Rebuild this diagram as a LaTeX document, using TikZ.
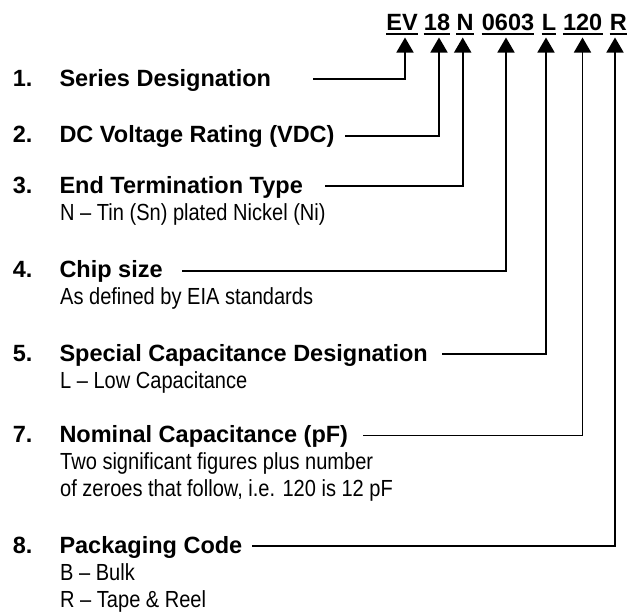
\documentclass[tikz,border=0pt]{standalone}
\usepackage{fontspec}
\setmainfont{Liberation Sans}
\newfontfamily\narrowfont[FakeStretch=0.86]{Liberation Sans}
\usetikzlibrary{arrows.meta}
\begin{document}
\begin{tikzpicture}[x=1pt,y=-1pt,
  code/.style={font=\fontsize{23.5}{26}\selectfont\bfseries, inner sep=0pt, anchor=base},
  lbl/.style={font=\fontsize{23.5}{26}\selectfont\bfseries, inner sep=0pt, anchor=base west},
  subtxt/.style={font=\fontsize{23.3}{26}\selectfont\narrowfont, inner sep=0pt, anchor=base west},
  uline/.style={line width=2pt},
  lead/.style={line width=1.7pt, -{Triangle[width=17pt,length=15pt]}}]
\useasboundingbox (0,0) rectangle (628,614);
% part number code
\node[code] (cEV) at (402,30) {EV};
\node[code] (c18) at (437,30) {18};
\node[code] (cN) at (465,30) {N};
\node[code] (c0603) at (508,30) {0603};
\node[code] (cL) at (549,30) {L};
\node[code] (c120) at (582.7,30) {120};
\node[code] (cR) at (618.3,30) {R};
\foreach \n in {cEV,c18,cN,c0603,cL,c120,cR}
  \draw[uline] ([yshift=-3.5pt]\n.base west) -- ([yshift=-3.5pt]\n.base east);
% arrow tips
\coordinate (tEV) at (405,37.5);
\coordinate (t18) at (439,37.5);
\coordinate (tN) at (462.7,37.5);
\coordinate (t0603) at (506,37.5);
\coordinate (tL) at (546,37.5);
\coordinate (t120) at (582.5,37.5);
\coordinate (tR) at (615,37.5);
% numbers
\node[lbl] (n1) at (12.7,86) {1.};
\node[lbl] (n2) at (12.7,142) {2.};
\node[lbl] (n3) at (12.7,193.5) {3.};
\node[lbl] (n4) at (12.7,277.5) {4.};
\node[lbl] (n5) at (12.7,361) {5.};
\node[lbl] (n7) at (12.7,442.5) {7.};
\node[lbl] (n8) at (12.7,553) {8.};
% labels
\node[lbl] (l1) at (59.3,86) {Series Designation};
\node[lbl] (l2) at (59.3,142) {DC Voltage Rating (VDC)};
\node[lbl] (l3) at (59.3,193.5) {End Termination Type};
\node[subtxt] (d3) at (60,220.5) {N – Tin (Sn) plated Nickel (Ni)};
\node[lbl] (l4) at (59.3,277.5) {Chip size};
\node[subtxt] (d4) at (60,304.5) {As defined by EIA standards};
\node[lbl] (l5) at (59.3,361) {Special Capacitance Designation};
\node[subtxt] (d5) at (60,388) {L – Low Capacitance};
\node[lbl] (l7) at (59.3,442.5) {Nominal Capacitance (pF)};
\node[subtxt] (d7a) at (60,469.5) {Two significant figures plus number};
\node[subtxt] (d7b) at (60,496.5) {of zeroes that follow, i.e. 120 is 12 pF};
\node[lbl] (l8) at (59.3,553) {Packaging Code};
\node[subtxt] (d8a) at (60,580) {B – Bulk};
\node[subtxt] (d8b) at (60,607) {R – Tape \& Reel};
% leader starts
\coordinate (s1) at (313,79);
\coordinate (s2) at (345,136);
\coordinate (s3) at (325,186);
\coordinate (s4) at (182,270.7);
\coordinate (s5) at (442,354);
\coordinate (s7) at (363,435.5);
\coordinate (s8) at (252,546);
% leaders
\draw[lead] (s1) -| (tEV);
\draw[lead] (s2) -| (t18);
\draw[lead] (s3) -| (tN);
\draw[lead] (s4) -| (t0603);
\draw[lead] (s5) -| (tL);
\draw[lead] (s7) -| (t120);
\draw[lead] (s8) -| (tR);
\end{tikzpicture}
\end{document}
